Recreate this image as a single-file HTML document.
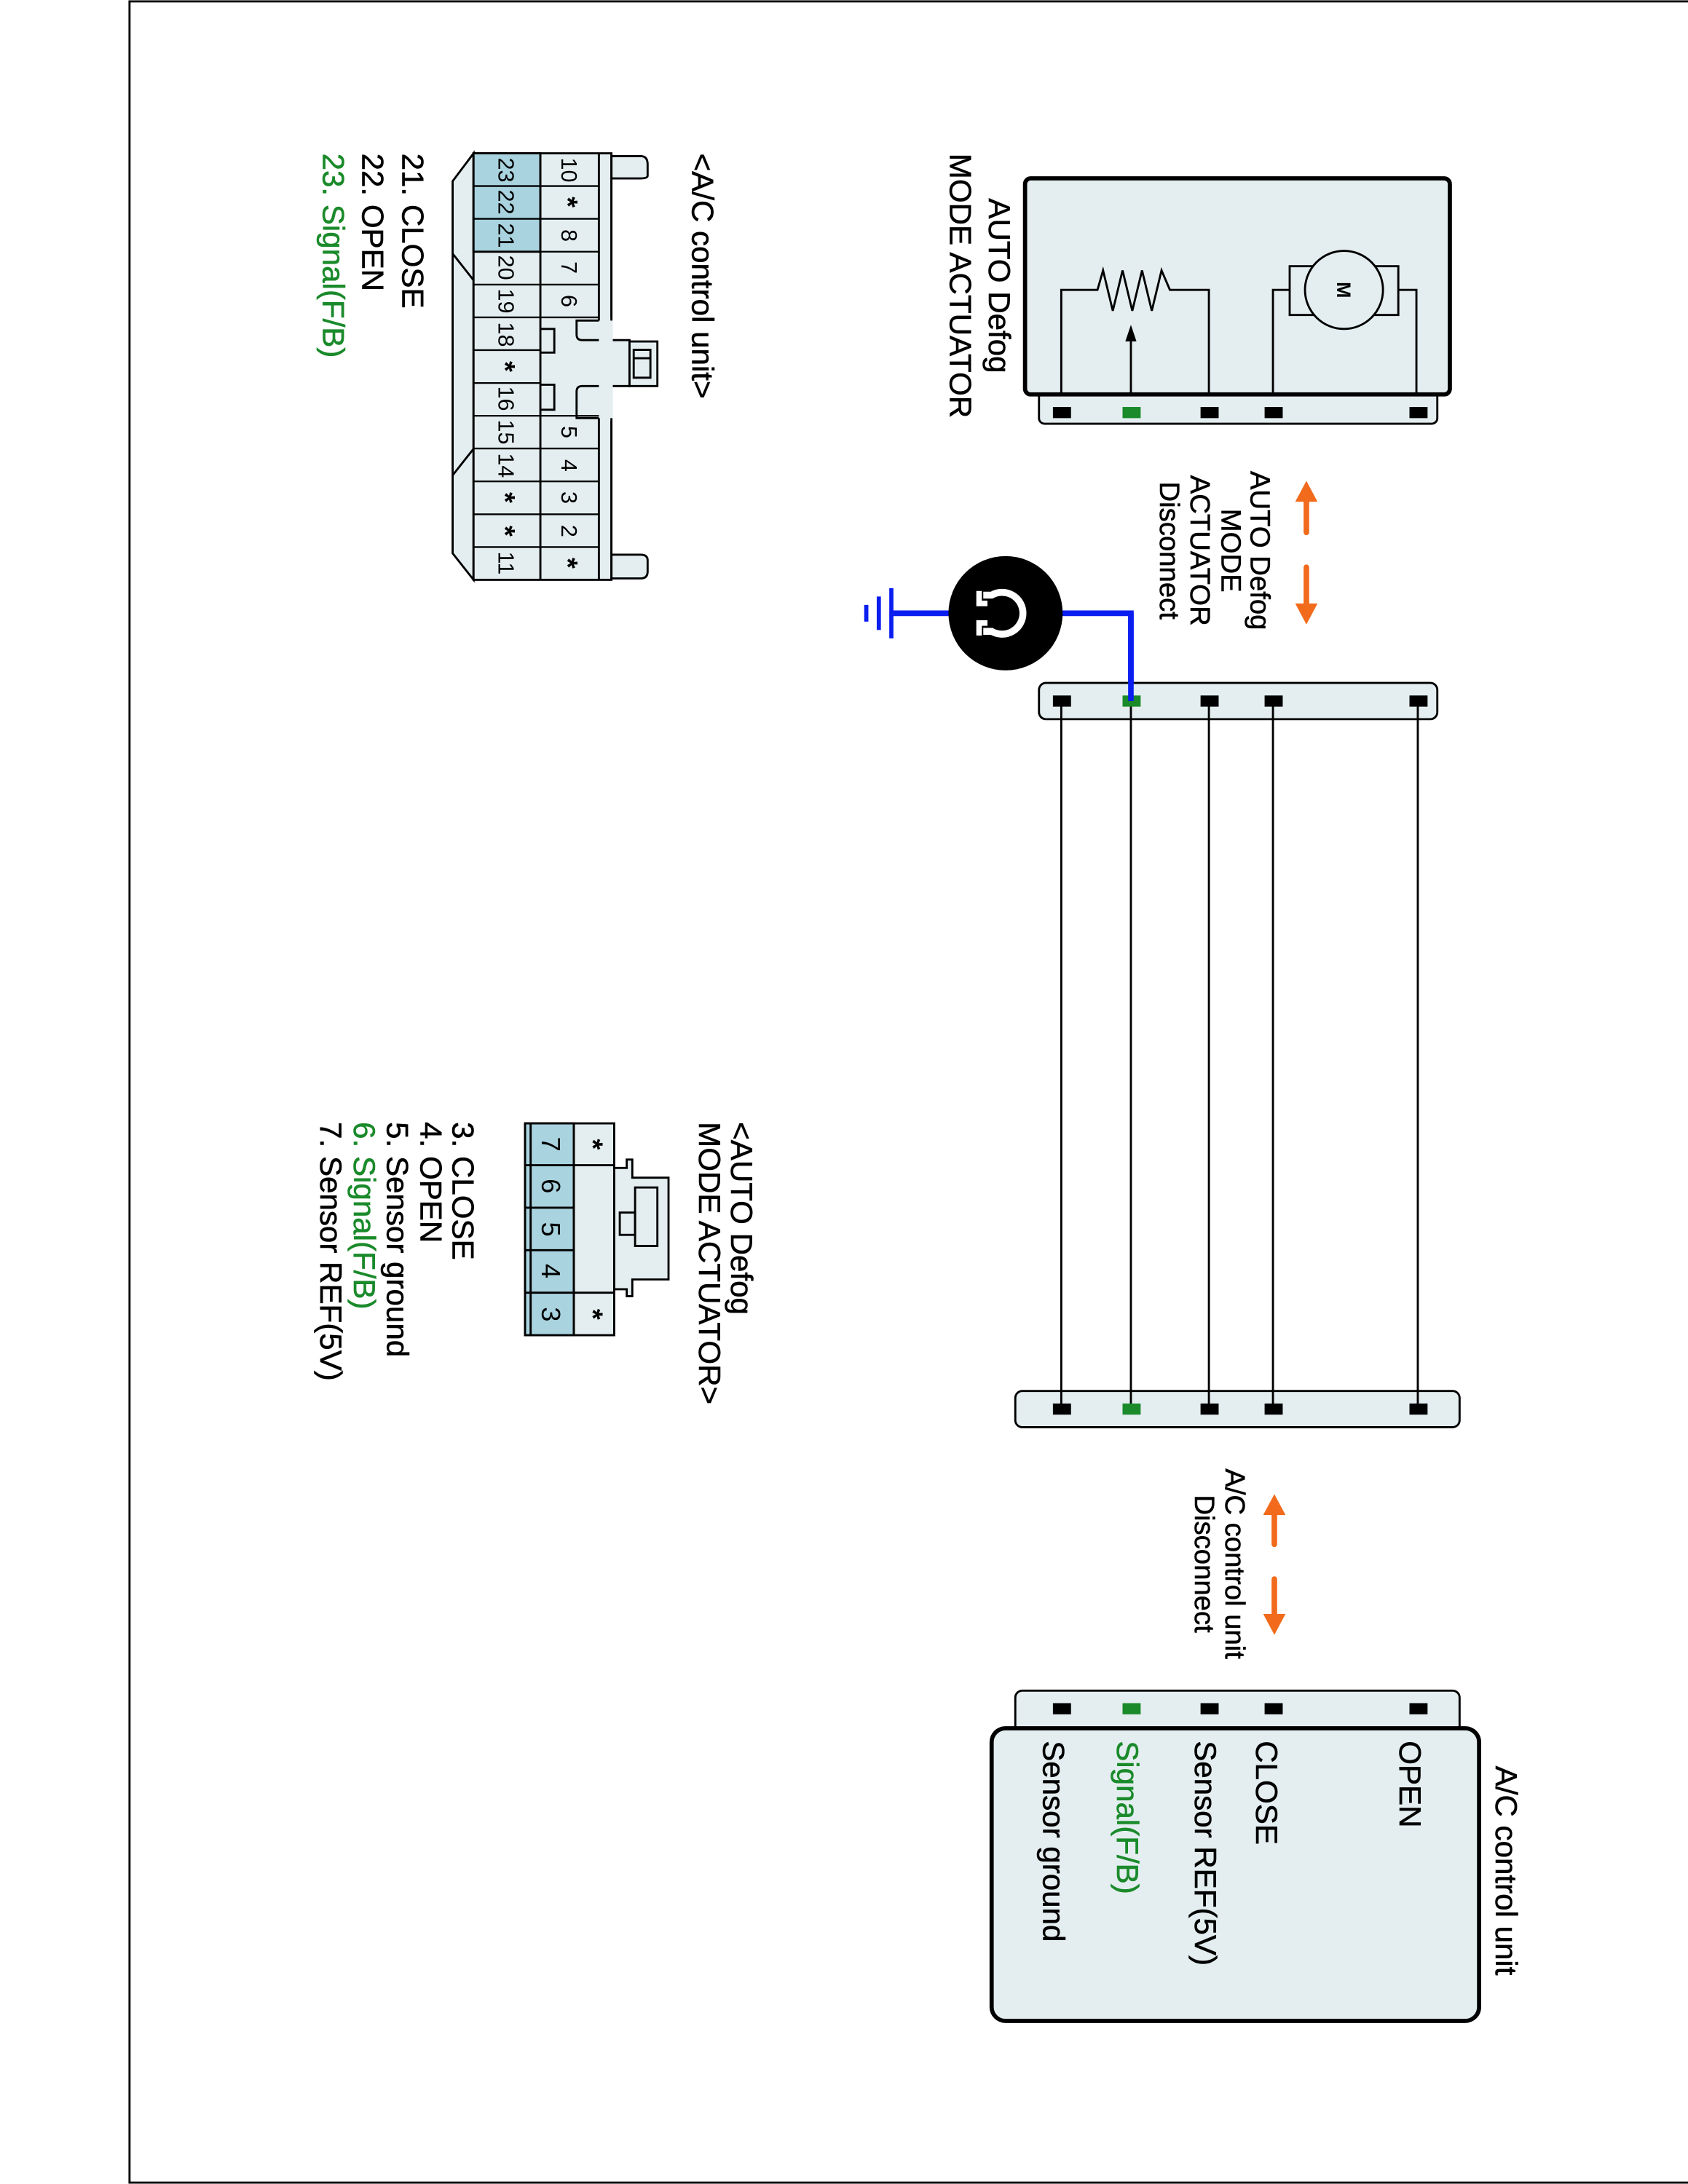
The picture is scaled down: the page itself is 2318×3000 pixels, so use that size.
<!DOCTYPE html>
<html><head><meta charset="utf-8"><style>
html,body{margin:0;padding:0;background:#fff}
svg{display:block}
text{font-family:"Liberation Sans",Arial,sans-serif;fill:#000}
.ast{font-weight:bold;font-size:20px}
.lab{stroke:#000;stroke-width:0.3}
.g{fill:#1a8a2a;stroke:#1a8a2a;stroke-width:0.3}
</style></head><body>
<svg width="2318" height="3000" viewBox="0 0 1212 1567" preserveAspectRatio="none" xmlns="http://www.w3.org/2000/svg">
<rect x="0" y="0" width="1212" height="1567" fill="#fff"/>
<rect x="93" y="1" width="1130" height="1565" fill="none" stroke="#000" stroke-width="1.5"/>

<rect x="746" y="280" width="286" height="24" rx="4" fill="#e4eef0" stroke="#000" stroke-width="1.5"/>
<rect x="736" y="128" width="305" height="155" rx="4" fill="#e4eef0" stroke="#000" stroke-width="3"/>
<g fill="none" stroke="#000" stroke-width="1.5">
<polyline points="762,283 762,208 788,208 792,194 799,223 806,194 813,223 820,194 827,223 834,194 840,208 868,208 868,283"/>
<line x1="812" y1="283" x2="812" y2="242"/>
<polyline points="914,283 914,208 926,208"/>
<rect x="926" y="191" width="78" height="35"/>
<polyline points="1004,208 1017,208 1017,283"/>
</g>
<polygon points="812,233 808,245 816,245" fill="#000"/>
<circle cx="965" cy="208" r="28" fill="#e4eef0" stroke="#000" stroke-width="1.5"/>
<text transform="translate(960,208) rotate(90)" font-size="14" font-weight="bold" text-anchor="middle">M</text>
<rect x="756" y="292" width="13" height="8" fill="#000"/><rect x="806" y="292" width="13" height="8" fill="#1a8a2a"/><rect x="862" y="292" width="13" height="8" fill="#000"/><rect x="908" y="292" width="13" height="8" fill="#000"/><rect x="1012" y="292" width="13" height="8" fill="#000"/>
<text class="lab" transform="translate(710,205) rotate(90)" font-size="22" text-anchor="middle">AUTO Defog</text>
<text class="lab" transform="translate(682,205) rotate(90)" font-size="22" text-anchor="middle">MODE ACTUATOR</text>

<text class="lab" transform="translate(898,395) rotate(90)" font-size="20" text-anchor="middle">AUTO Defog</text>
<text class="lab" transform="translate(877,395) rotate(90)" font-size="20" text-anchor="middle">MODE</text>
<text class="lab" transform="translate(855,395) rotate(90)" font-size="20" text-anchor="middle">ACTUATOR</text>
<text class="lab" transform="translate(833,395) rotate(90)" font-size="20" text-anchor="middle">Disconnect</text>
<g fill="#f26a1b" stroke="#f26a1b">
<line x1="938" y1="358" x2="938" y2="382" stroke-width="4" stroke-linecap="round"/>
<polygon points="938,345 930,360 946,360" stroke="none"/>
<line x1="938" y1="407" x2="938" y2="433" stroke-width="4" stroke-linecap="round"/>
<polygon points="930,433 946,433 938,448" stroke="none"/>
<line x1="915" y1="1085" x2="915" y2="1108" stroke-width="4" stroke-linecap="round"/>
<polygon points="915,1072 907,1087 923,1087" stroke="none"/>
<line x1="915" y1="1133" x2="915" y2="1158" stroke-width="4" stroke-linecap="round"/>
<polygon points="907,1158 923,1158 915,1173" stroke="none"/>
</g>

<path d="M812,503 V440 H760" fill="none" stroke="#0a1ef0" stroke-width="4"/>
<line x1="684" y1="440" x2="640" y2="440" stroke="#0a1ef0" stroke-width="4"/>
<line x1="640" y1="422" x2="640" y2="458" stroke="#0a1ef0" stroke-width="3"/>
<line x1="631" y1="428" x2="631" y2="452" stroke="#0a1ef0" stroke-width="3"/>
<line x1="622" y1="434" x2="622" y2="446" stroke="#0a1ef0" stroke-width="3"/>
<circle cx="722" cy="440" r="41" fill="#000"/>
<path d="M706,427 H712 A15,15 0 1 1 712,453 H706" fill="none" stroke="#fff" stroke-width="5"/>
<path d="M703,424 V433 H709 M703,456 V447 H709" fill="none" stroke="#fff" stroke-width="4"/>

<rect x="746" y="490" width="286" height="26" rx="5" fill="#e4eef0" stroke="#000" stroke-width="1.5"/>
<rect x="729" y="998" width="319" height="26" rx="5" fill="#e4eef0" stroke="#000" stroke-width="1.5"/>
<g stroke="#000" stroke-width="1.5">
<line x1="762" y1="503" x2="762" y2="1011"/><line x1="868" y1="503" x2="868" y2="1011"/><line x1="914" y1="503" x2="914" y2="1011"/><line x1="1018" y1="503" x2="1018" y2="1011"/><line x1="812" y1="503" x2="812" y2="1011"/>
</g>
<rect x="756" y="499" width="13" height="8" fill="#000"/><rect x="806" y="499" width="13" height="8" fill="#1a8a2a"/><rect x="862" y="499" width="13" height="8" fill="#000"/><rect x="908" y="499" width="13" height="8" fill="#000"/><rect x="1012" y="499" width="13" height="8" fill="#000"/>
<rect x="756" y="1007" width="13" height="8" fill="#000"/><rect x="806" y="1007" width="13" height="8" fill="#1a8a2a"/><rect x="862" y="1007" width="13" height="8" fill="#000"/><rect x="908" y="1007" width="13" height="8" fill="#000"/><rect x="1012" y="1007" width="13" height="8" fill="#000"/>
<path d="M812,503 V440" stroke="#0a1ef0" stroke-width="4"/>

<text class="lab" transform="translate(880,1122) rotate(90)" font-size="20" text-anchor="middle">A/C control unit</text>
<text class="lab" transform="translate(858,1122) rotate(90)" font-size="20" text-anchor="middle">Disconnect</text>

<rect x="729" y="1213" width="319" height="30" rx="5" fill="#e4eef0" stroke="#000" stroke-width="1.5"/>
<rect x="712" y="1240" width="350" height="210" rx="10" fill="#e4eef0" stroke="#000" stroke-width="3"/>
<rect x="756" y="1222" width="13" height="8" fill="#000"/><rect x="806" y="1222" width="13" height="8" fill="#1a8a2a"/><rect x="862" y="1222" width="13" height="8" fill="#000"/><rect x="908" y="1222" width="13" height="8" fill="#000"/><rect x="1012" y="1222" width="13" height="8" fill="#000"/>
<text class="lab" transform="translate(1074,1267) rotate(90)" font-size="22">A/C control unit</text>
<text class="lab" transform="translate(1005,1249) rotate(90)" font-size="22">OPEN</text>
<text class="lab" transform="translate(902,1249) rotate(90)" font-size="22">CLOSE</text>
<text class="lab" transform="translate(858,1249) rotate(90)" font-size="22">Sensor REF(5V)</text>
<text class="g" transform="translate(802,1249) rotate(90)" font-size="22">Signal(F/B)</text>
<text class="lab" transform="translate(749,1249) rotate(90)" font-size="22">Sensor ground</text>

<g stroke="#000" stroke-width="1.5">
<path d="M340,110 L325,130 L325,397 L340,416 Z" fill="#e4eef0"/>
<line x1="325" y1="182" x2="340" y2="201"/>
<line x1="325" y1="341" x2="340" y2="322"/>
<path d="M439,112 H460 Q465,112 465,118 V126 Q465,128 460,128 H439 Z" fill="#e4eef0"/>
<path d="M439,398 H460 Q465,398 465,402 V410 Q465,415 460,415 H439 Z" fill="#e4eef0"/>
<rect x="340" y="110" width="99" height="306" fill="#e4eef0"/>
<rect x="340" y="110" width="48" height="70.6" fill="#a9d3df"/>
<path d="M439,230 H414 V240 Q414,244 418,244 H452 V277 H418 Q414,277 414,281 V300 H439" fill="#e4eef0"/>
<rect x="430" y="228" width="10" height="74" fill="#e4eef0" stroke="none"/>
<rect x="452" y="245" width="20" height="32" fill="#e4eef0"/>
<rect x="455" y="251" width="12" height="20" fill="none"/>
<line x1="455" y1="257" x2="467" y2="257"/>
<path d="M388,236 H398 V253 H388 M388,276 H398 V294 H388" fill="none"/>
<line x1="388" y1="110" x2="388" y2="416"/>
<line x1="430" y1="110" x2="430" y2="230"/>
<line x1="430" y1="300" x2="430" y2="416"/>
<line x1="439" y1="110" x2="439" y2="230"/><line x1="439" y1="300" x2="439" y2="416"/>
</g>
<g stroke="#000" stroke-width="1.2">
<line x1="340" y1="133.5" x2="430" y2="133.5"/><line x1="340" y1="157" x2="430" y2="157"/><line x1="340" y1="180.6" x2="430" y2="180.6"/><line x1="340" y1="204.2" x2="430" y2="204.2"/><line x1="340" y1="227.7" x2="430" y2="227.7"/><line x1="340" y1="251.2" x2="388" y2="251.2"/><line x1="340" y1="274.8" x2="388" y2="274.8"/><line x1="340" y1="298.3" x2="430" y2="298.3"/><line x1="340" y1="321.8" x2="430" y2="321.8"/><line x1="340" y1="345.4" x2="430" y2="345.4"/><line x1="340" y1="369" x2="430" y2="369"/><line x1="340" y1="392.5" x2="430" y2="392.5"/>
</g>
<g font-size="16" text-anchor="middle">
<text transform="translate(358,122) rotate(90)">23</text><text transform="translate(358,145) rotate(90)">22</text><text transform="translate(358,169) rotate(90)">21</text><text transform="translate(358,192) rotate(90)">20</text><text transform="translate(358,216) rotate(90)">19</text><text transform="translate(358,240) rotate(90)">18</text><text class="ast" transform="translate(356,263) rotate(90)">*</text><text transform="translate(358,286) rotate(90)">16</text><text transform="translate(358,310) rotate(90)">15</text><text transform="translate(358,334) rotate(90)">14</text><text class="ast" transform="translate(356,357) rotate(90)">*</text><text class="ast" transform="translate(356,381) rotate(90)">*</text><text transform="translate(358,404) rotate(90)">11</text>
<text transform="translate(403,122) rotate(90)">10</text><text class="ast" transform="translate(401,145) rotate(90)">*</text><text transform="translate(403,169) rotate(90)">8</text><text transform="translate(403,192) rotate(90)">7</text><text transform="translate(403,216) rotate(90)">6</text><text transform="translate(403,310) rotate(90)">5</text><text transform="translate(403,334) rotate(90)">4</text><text transform="translate(403,357) rotate(90)">3</text><text transform="translate(403,381) rotate(90)">2</text><text class="ast" transform="translate(401,404) rotate(90)">*</text>
</g>
<text class="lab" transform="translate(497,110) rotate(90)" font-size="22">&lt;A/C control unit&gt;</text>
<text class="lab" transform="translate(289,110) rotate(90)" font-size="22">21. CLOSE</text>
<text class="lab" transform="translate(260,110) rotate(90)" font-size="22">22. OPEN</text>
<text class="g" transform="translate(232,110) rotate(90)" font-size="22">23. Signal(F/B)</text>

<g stroke="#000" stroke-width="1.5">
<path d="M441,838 H450 V832 H454 V845 H480 V918 H454 V930 H450 V925 H441" fill="#e4eef0"/>
<rect x="456" y="852" width="16" height="42" fill="none"/>
<rect x="445" y="870" width="11" height="16" fill="none"/>
<rect x="377" y="806" width="64" height="152" fill="#e4eef0"/>
<rect x="377" y="806" width="35" height="152" fill="#a9d3df"/>
<line x1="381" y1="806" x2="381" y2="958"/>
<line x1="412" y1="806" x2="412" y2="958"/>
<line x1="377" y1="836" x2="441" y2="836"/><line x1="377" y1="866.5" x2="412" y2="866.5"/><line x1="377" y1="897" x2="412" y2="897"/><line x1="377" y1="927.5" x2="441" y2="927.5"/>
</g>
<g font-size="19" text-anchor="middle">
<text transform="translate(389,821) rotate(90)">7</text><text transform="translate(389,851) rotate(90)">6</text><text transform="translate(389,882) rotate(90)">5</text><text transform="translate(389,912) rotate(90)">4</text><text transform="translate(389,943) rotate(90)">3</text>
<text class="ast" transform="translate(419,821) rotate(90)">*</text><text class="ast" transform="translate(419,943) rotate(90)">*</text>
</g>
<text class="lab" transform="translate(525,805) rotate(90)" font-size="22">&lt;AUTO Defog</text>
<text class="lab" transform="translate(502,805) rotate(90)" font-size="22">MODE ACTUATOR&gt;</text>
<text class="lab" transform="translate(325,805) rotate(90)" font-size="22">3. CLOSE</text>
<text class="lab" transform="translate(302,805) rotate(90)" font-size="22">4. OPEN</text>
<text class="lab" transform="translate(278,805) rotate(90)" font-size="22">5. Sensor ground</text>
<text class="g" transform="translate(254,805) rotate(90)" font-size="22">6. Signal(F/B)</text>
<text class="lab" transform="translate(230,805) rotate(90)" font-size="22">7. Sensor REF(5V)</text>
</svg>
</body></html>
